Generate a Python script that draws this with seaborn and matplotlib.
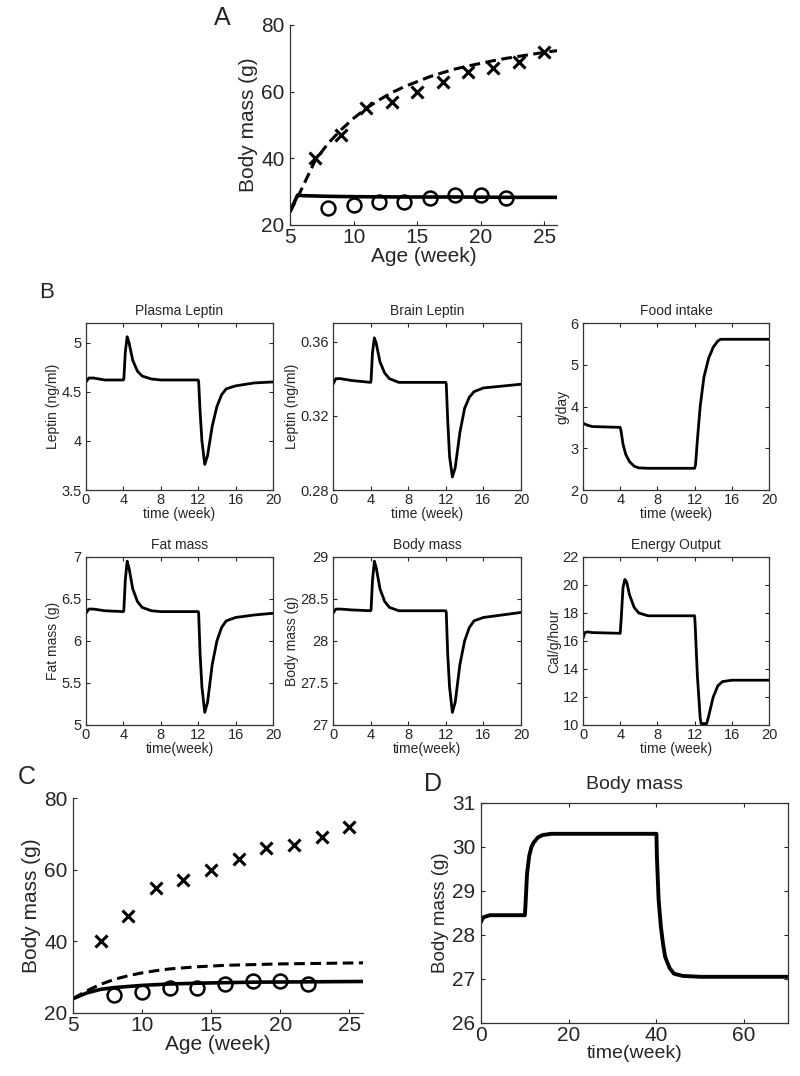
import numpy as np
import seaborn as sns
import matplotlib.pyplot as plt

# ---- Panel A / C data (age in weeks, body mass in g) ----
obese_age = [7, 9, 11, 13, 15, 17, 19, 21, 23, 25]
obese_mass = [40, 47, 55, 57, 60, 63, 66, 67, 69, 72]
lean_age = [8, 10, 12, 14, 16, 18, 20, 22]
lean_mass = [25, 26, 27, 27, 28, 29, 29, 28]

a_dash_x = [5, 5.5, 6, 7, 8, 9, 10, 11, 12, 13, 14, 15, 16, 17, 18, 19, 20, 21, 22, 23, 24, 25, 26]
a_dash_y = [24, 27.5, 31.5, 39.5, 44.5, 48.5, 52, 55, 57.5, 59.7, 61.5, 63, 64.5, 65.7, 66.8,
            67.7, 68.5, 69.3, 70, 70.6, 71.2, 71.8, 72.3]
a_solid_x = [5, 5.6, 6, 8, 10, 14, 18, 22, 26]
a_solid_y = [24, 29, 28.8, 28.6, 28.5, 28.4, 28.4, 28.3, 28.3]

c_dash_x = [5, 6, 7, 8, 9, 10, 11, 12, 14, 16, 18, 20, 22, 24, 26]
c_dash_y = [24, 26.2, 28, 29.4, 30.4, 31.2, 31.8, 32.3, 32.9, 33.3, 33.5, 33.7, 33.8, 33.9, 34]
c_solid_x = [5, 6, 7, 8, 10, 12, 15, 18, 22, 26]
c_solid_y = [24, 25.6, 26.6, 27.1, 27.7, 28.1, 28.4, 28.6, 28.7, 28.8]

# ---- Panel B data (time in weeks) ----
pulse_t = [0, 0.3, 0.8, 2, 4, 4.05, 4.2, 4.4, 4.6, 5, 5.5, 6, 7, 8, 12, 12.05, 12.2, 12.4,
           12.7, 13, 13.5, 14, 14.5, 15, 16, 18, 20]
plasma_leptin = [4.6, 4.64, 4.64, 4.62, 4.62, 4.63, 4.9, 5.06, 5.0, 4.82, 4.71, 4.66, 4.63,
                 4.62, 4.62, 4.6, 4.3, 4.0, 3.76, 3.85, 4.15, 4.35, 4.47, 4.53, 4.56, 4.59, 4.6]
brain_leptin = [0.337, 0.340, 0.340, 0.339, 0.338, 0.339, 0.354, 0.362, 0.359, 0.349, 0.343,
                0.340, 0.338, 0.338, 0.338, 0.337, 0.318, 0.298, 0.287, 0.292, 0.311, 0.324,
                0.330, 0.333, 0.335, 0.336, 0.337]
fat_mass = [6.33, 6.38, 6.38, 6.36, 6.35, 6.37, 6.72, 6.95, 6.87, 6.62, 6.47, 6.40, 6.36,
            6.35, 6.35, 6.33, 5.85, 5.45, 5.15, 5.27, 5.72, 6.0, 6.16, 6.24, 6.28, 6.31, 6.33]
body_mass_b = [28.33, 28.38, 28.38, 28.37, 28.36, 28.37, 28.72, 28.95, 28.87, 28.62, 28.47,
               28.40, 28.36, 28.36, 28.36, 28.34, 27.85, 27.45, 27.15, 27.27, 27.72, 28.0,
               28.16, 28.24, 28.28, 28.31, 28.34]

food_t = [0, 0.5, 1, 4, 4.1, 4.3, 4.6, 5, 5.5, 6, 7, 12, 12.1, 12.3, 12.6, 13, 13.5, 14,
          14.5, 14.8, 20]
food_intake = [3.6, 3.55, 3.52, 3.5, 3.4, 3.1, 2.85, 2.68, 2.57, 2.53, 2.52, 2.52, 2.6, 3.2,
               4.0, 4.7, 5.15, 5.42, 5.57, 5.61, 5.61]

energy_t = [0, 0.2, 0.5, 1, 4, 4.1, 4.3, 4.5, 4.7, 5, 5.5, 6, 7, 12, 12.05, 12.3, 12.6,
            12.7, 13.3, 13.5, 14, 14.5, 15, 16, 20]
energy_out = [16.2, 16.6, 16.65, 16.6, 16.55, 17.5, 19.8, 20.4, 20.2, 19.3, 18.4, 18.0, 17.8,
              17.8, 17.3, 13.5, 10.5, 10.1, 10.1, 10.6, 12.0, 12.8, 13.1, 13.2, 13.2]

# ---- Panel D data ----
d_t = [0, 0.5, 2, 10, 10.1, 10.5, 11, 11.5, 12, 13, 14, 16, 40, 40.1, 40.5, 41, 41.5, 42,
       43, 44, 46, 50, 70]
d_mass = [28.3, 28.4, 28.45, 28.45, 28.6, 29.4, 29.8, 30.0, 30.1, 30.22, 30.27, 30.3, 30.3,
          29.8, 28.8, 28.2, 27.8, 27.5, 27.25, 27.12, 27.07, 27.05, 27.05]

sns.set_style("ticks")
plt.rcParams['font.family'] = ['Liberation Sans', 'DejaVu Sans']
plt.rcParams['xtick.direction'] = 'in'
plt.rcParams['ytick.direction'] = 'in'
plt.rcParams['axes.edgecolor'] = '#333333'
plt.rcParams['axes.linewidth'] = 0.9

W, H = 800, 1076
fig = plt.figure(figsize=(8, 10.76), dpi=100)


def box(left, right, top, bottom):
    # pixel box -> figure axes
    return fig.add_axes([left / W, 1 - bottom / H, (right - left) / W, (bottom - top) / H])


def growth_panel(ax, dash_x, dash_y, solid_x, solid_y):
    sns.lineplot(x=dash_x, y=dash_y, ax=ax, color='black', linewidth=2.2,
                 linestyle=(0, (3.5, 1.8)))
    sns.lineplot(x=solid_x, y=solid_y, ax=ax, color='black', linewidth=2.6)
    sns.lineplot(x=obese_age, y=obese_mass, ax=ax, color='black', linestyle='',
                 marker='x', markersize=9, markeredgewidth=2.2, markeredgecolor='black')
    sns.lineplot(x=lean_age, y=lean_mass, ax=ax, color='black', linestyle='',
                 marker='o', markersize=10, markerfacecolor='none',
                 markeredgecolor='black', markeredgewidth=1.8)
    ax.set_xlim(5, 26)
    ax.set_ylim(20, 80)
    ax.set_xticks([5, 10, 15, 20, 25])
    ax.set_yticks([20, 40, 60, 80])
    ax.set_xlabel('Age (week)', fontsize=15, labelpad=0)
    ax.set_ylabel('Body mass (g)', fontsize=15, labelpad=2)
    ax.tick_params(axis='x', labelsize=15, length=3, pad=2)
    ax.tick_params(axis='y', labelsize=15, length=3, pad=4)
    sns.despine(ax=ax)


# Panel A
axA = box(290, 557, 25, 225)
growth_panel(axA, a_dash_x, a_dash_y, a_solid_x, a_solid_y)
fig.text(222 / W, 1 - 18 / H, 'A', fontsize=18, ha='center', va='center')

# Panel B
fig.text(47 / W, 1 - 292 / H, 'B', fontsize=16, ha='center', va='center')
cols = [(86, 273), (333, 521), (583, 769)]
rows = [(323, 490), (557, 725)]
b_panels = [
    (0, 0, pulse_t, plasma_leptin, 'Plasma Leptin', 'Leptin (ng/ml)', 'time (week)',
     (3.5, 5.2), [3.5, 4, 4.5, 5], ['3.5', '4', '4.5', '5']),
    (0, 1, pulse_t, brain_leptin, 'Brain Leptin', 'Leptin (ng/ml)', 'time (week)',
     (0.28, 0.37), [0.28, 0.32, 0.36], ['0.28', '0.32', '0.36']),
    (0, 2, food_t, food_intake, 'Food intake', 'g/day', 'time (week)',
     (2, 6), [2, 3, 4, 5, 6], ['2', '3', '4', '5', '6']),
    (1, 0, pulse_t, fat_mass, 'Fat mass', 'Fat mass (g)', 'time(week)',
     (5, 7), [5, 5.5, 6, 6.5, 7], ['5', '5.5', '6', '6.5', '7']),
    (1, 1, pulse_t, body_mass_b, 'Body mass', 'Body mass (g)', 'time(week)',
     (27, 29), [27, 27.5, 28, 28.5, 29], ['27', '27.5', '28', '28.5', '29']),
    (1, 2, energy_t, energy_out, 'Energy Output', 'Cal/g/hour', 'time (week)',
     (10, 22), [10, 12, 14, 16, 18, 20, 22], ['10', '12', '14', '16', '18', '20', '22']),
]
for r, c, t, y, title, ylab, xlab, ylim, yt, ytl in b_panels:
    ax = box(cols[c][0], cols[c][1], rows[r][0], rows[r][1])
    sns.lineplot(x=t, y=y, ax=ax, color='black', linewidth=2.0)
    ax.set_xlim(0, 20)
    ax.set_ylim(*ylim)
    ax.set_xticks([0, 4, 8, 12, 16, 20])
    ax.set_yticks(yt)
    ax.set_yticklabels(ytl)
    ax.set_title(title, fontsize=10, pad=6)
    ax.set_xlabel(xlab, fontsize=10, labelpad=0)
    ax.set_ylabel(ylab, fontsize=10, labelpad=1)
    ax.tick_params(axis='x', labelsize=10.5, length=3, pad=2, top=True)
    ax.tick_params(axis='y', labelsize=10.5, length=3, pad=3, right=True)

# Panel C
axC = box(73, 363, 798, 1013)
growth_panel(axC, c_dash_x, c_dash_y, c_solid_x, c_solid_y)
fig.text(27 / W, 1 - 777 / H, 'C', fontsize=18, ha='center', va='center')

# Panel D
axD = box(481, 788, 803, 1023)
sns.lineplot(x=d_t, y=d_mass, ax=axD, color='black', linewidth=2.8)
axD.set_xlim(0, 70)
axD.set_ylim(26, 31)
axD.set_xticks([0, 20, 40, 60])
axD.set_yticks([26, 27, 28, 29, 30, 31])
axD.set_title('Body mass', fontsize=14, pad=10)
axD.set_xlabel('time(week)', fontsize=14, labelpad=0)
axD.set_ylabel('Body mass (g)', fontsize=13.5, labelpad=2)
axD.tick_params(axis='x', labelsize=15, length=3, pad=2, top=True)
axD.tick_params(axis='y', labelsize=15, length=3, pad=4, right=True)
fig.text(433 / W, 1 - 784 / H, 'D', fontsize=18, ha='center', va='center')

fig.savefig('out.png', dpi=100)
